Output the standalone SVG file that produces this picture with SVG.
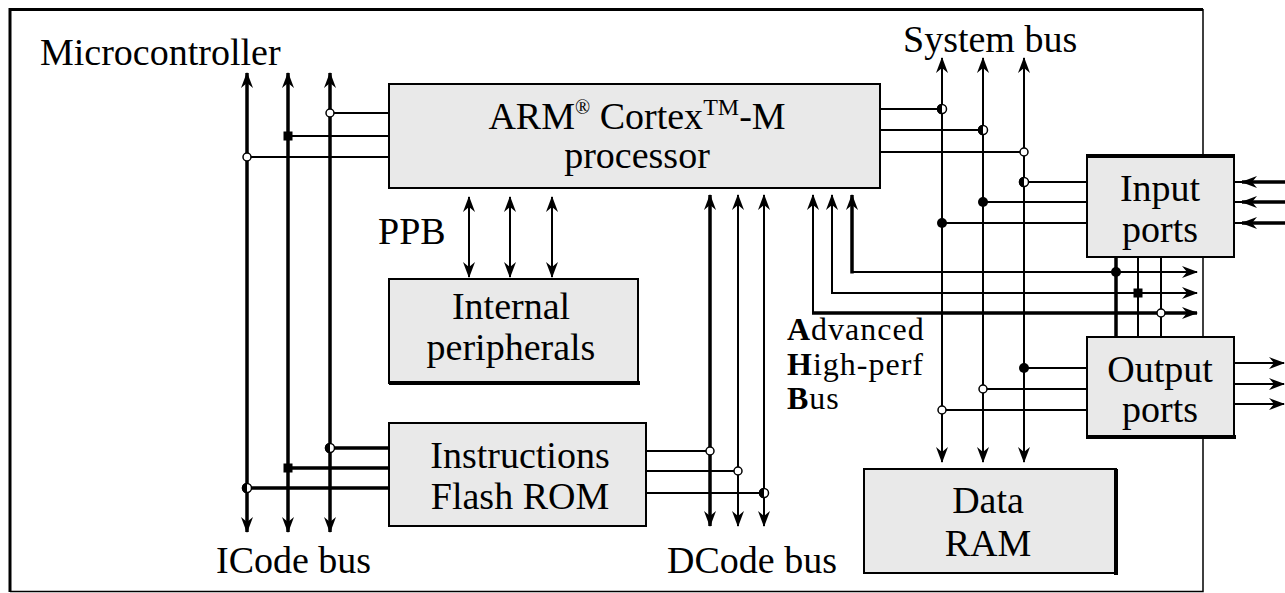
<svg xmlns="http://www.w3.org/2000/svg" xmlns:xlink="http://www.w3.org/1999/xlink" width="1285" height="593" viewBox="0 0 1285 593">
<style>
text{font-family:"Liberation Serif","Times New Roman",serif;font-size:38px;fill:#000}
.c{text-anchor:middle}
.box{fill:#e9e9e9;stroke:#000;stroke-width:2}
.edge{stroke:#000;fill:none}
.w{fill:none;stroke:#000;stroke-width:2}
.t{fill:none;stroke:#000;stroke-width:3.5}
.ah{marker-end:url(#ah)}
.ah2{marker-start:url(#ah);marker-end:url(#ah)}
.ahb{font-size:32px;letter-spacing:1px}
</style>
<defs>
<marker id="ah" viewBox="0 0 16 12" refX="15" refY="6" markerWidth="16" markerHeight="12" markerUnits="userSpaceOnUse" orient="auto-start-reverse">
<path d="M0,0 L16,6 L0,12 L5,6 z" fill="#000"/>
</marker>
<g id="j-ring"><circle r="4" fill="#fff" stroke="#000" stroke-width="1.5"/></g>
<g id="j-sq"><rect x="-4.5" y="-4.5" width="9" height="9" fill="#000"/></g>
<g id="j-dot"><circle r="5" fill="#000"/></g>
<g id="j-half"><circle r="4.5" fill="#fff" stroke="#000" stroke-width="1.5"/><path d="M0,-5.2 A5.2,5.2 0 0 0 0,5.2 z" fill="#000"/></g>
</defs>
<rect width="1285" height="593" fill="#fff"/>
<g id="frame">
<path class="edge" stroke-width="1.5" d="M1203,9 V591.5 H10"/>
<path class="edge" stroke-width="3" d="M10,592 V9.5 H1203"/>
<text x="40" y="65">Microcontroller</text>
</g>
<g id="connectors">
<!-- ICode bus -->
<path class="t ah2" d="M247,532 V73"/>
<path class="t ah2" d="M288,532 V73"/>
<path class="t ah2" d="M330,532 V73"/>
<path class="w" d="M330,113 H389 M288,136 H389 M247,157 H389"/>
<path class="t" d="M330,448 H389 M288,468 H389 M247,488 H389"/>
<!-- DCode bus -->
<path class="t ah2" d="M710,526 V195"/>
<path class="w ah2" d="M738,526 V195"/>
<path class="w ah2" d="M764,526 V195"/>
<path class="w" d="M646,451 H710 M646,471 H738 M646,493 H764"/>
<!-- PPB -->
<path class="w ah2" d="M469,197 V277"/>
<path class="w ah2" d="M510,197 V277"/>
<path class="w ah2" d="M552,197 V277"/>
<!-- AHB -->
<path class="t ah" d="M852,273.5 V195"/>
<path class="w ah" d="M851,272 H1197"/>
<path class="w ah2" d="M832,195 V293 H1197"/>
<path class="w ah" d="M813,314 V195"/>
<path class="t ah" d="M812,313 H1197"/>
<!-- System bus -->
<path class="w ah2" d="M942,462 V58"/>
<path class="w ah2" d="M983,462 V58"/>
<path class="w ah2" d="M1024,462 V58"/>
<path class="w" d="M880,109 H942 M880,130 H983 M880,152 H1024"/>
<path class="w" d="M1024,182 H1087 M983,202 H1087 M942,223 H1087"/>
<path class="w" d="M1024,368 H1087 M983,389 H1087 M942,410 H1087"/>
<!-- ports to AHB -->
<path class="t" d="M1116,257 V337"/>
<path class="w" d="M1138,257 V337 M1161,257 V337"/>
<!-- external port arrows -->
<path class="w" d="M1234,182 H1244 M1234,202 H1244 M1234,223 H1244"/>
<path class="t ah" d="M1285,182 H1242"/>
<path class="t ah" d="M1285,202 H1242"/>
<path class="t ah" d="M1285,223 H1242"/>
<path class="w ah" d="M1234,363 H1284"/>
<path class="w ah" d="M1234,384 H1284"/>
<path class="w ah" d="M1234,404 H1284"/>
<!-- junctions -->
<use href="#j-ring" x="330" y="113"/>
<use href="#j-sq" x="288" y="136"/>
<use href="#j-ring" x="247" y="157"/>
<use href="#j-half" x="330" y="448"/>
<use href="#j-sq" x="288" y="468"/>
<use href="#j-half" x="247" y="488"/>
<use href="#j-ring" x="710" y="451"/>
<use href="#j-ring" x="738" y="471"/>
<use href="#j-half" x="764" y="493"/>
<use href="#j-half" x="942" y="109"/>
<use href="#j-half" x="983" y="130"/>
<use href="#j-ring" x="1024" y="152"/>
<use href="#j-half" x="1024" y="182"/>
<use href="#j-dot" x="983" y="202"/>
<use href="#j-dot" x="942" y="223"/>
<use href="#j-dot" x="1116" y="272"/>
<use href="#j-sq" x="1138" y="293"/>
<use href="#j-ring" x="1161" y="313"/>
<use href="#j-dot" x="1024" y="368"/>
<use href="#j-ring" x="983" y="389"/>
<use href="#j-ring" x="942" y="410"/>
</g>
<g id="processor">
<rect class="box" x="389" y="84" width="491" height="104" stroke-width="4"/>
<text class="c" x="637" y="129">ARM<tspan font-size="20" dy="-15">®</tspan><tspan dy="15"> Cortex</tspan><tspan font-size="24" dy="-14">TM</tspan><tspan dy="14">-M</tspan></text>
<text class="c" x="637" y="168">processor</text>
</g>
<g id="internal-peripherals">
<rect class="box" x="389" y="279" width="249" height="104"/>
<path class="edge" stroke-width="4" d="M389,383 H640"/>
<text class="c" x="511" y="319">Internal</text>
<text class="c" x="511" y="360">peripherals</text>
</g>
<g id="flash-rom">
<rect class="box" x="389" y="423" width="257" height="103"/>
<text class="c" x="520" y="468">Instructions</text>
<text class="c" x="520" y="509">Flash ROM</text>
</g>
<g id="data-ram">
<rect class="box" x="864" y="469" width="252" height="104"/>
<path class="edge" stroke-width="4" d="M1116,469 V575"/>
<text class="c" x="988" y="513">Data</text>
<text class="c" x="988" y="556">RAM</text>
</g>
<g id="input-ports">
<rect class="box" x="1087" y="156" width="147" height="101"/>
<path class="edge" stroke-width="4" d="M1086,156 H1235"/>
<text class="c" x="1160" y="201">Input</text>
<text class="c" x="1160" y="242">ports</text>
</g>
<g id="output-ports">
<rect class="box" x="1087" y="337" width="147" height="100"/>
<path class="edge" stroke-width="4" d="M1086,437 H1236"/>
<text class="c" x="1160" y="382">Output</text>
<text class="c" x="1160" y="422">ports</text>
</g>
<g id="labels">
<text x="378" y="244">PPB</text>
<text x="216" y="573">ICode bus</text>
<text x="667" y="573">DCode bus</text>
<text x="903" y="52">System bus</text>
<text class="ahb" x="787" y="340"><tspan font-weight="bold">A</tspan>dvanced</text>
<text class="ahb" x="787" y="375"><tspan font-weight="bold">H</tspan>igh-perf</text>
<text class="ahb" x="787" y="409"><tspan font-weight="bold">B</tspan>us</text>
</g>
</svg>
